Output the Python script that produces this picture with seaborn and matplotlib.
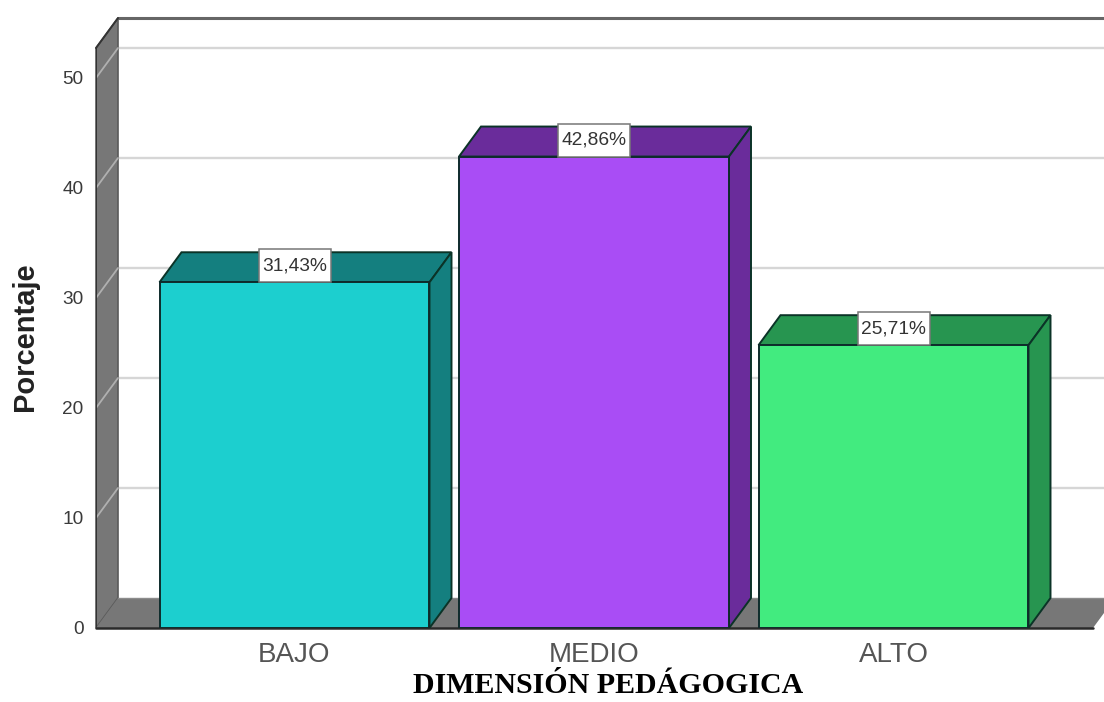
import matplotlib
matplotlib.use("Agg")
import matplotlib.pyplot as plt
from matplotlib.patches import Polygon, Rectangle
import seaborn as sns

categories = ["BAJO", "MEDIO", "ALTO"]
values = [31.43, 42.86, 25.71]
y_ticks = [0, 10, 20, 30, 40, 50]
front_colors = ["#1CCFCF", "#A94DF5", "#42EB7F"]
side_colors = ["#147F7F", "#6A2C9B", "#279550"]
x_title = "DIMENSIÓN PEDÁGOGICA"
y_title = "Porcentaje"

W, H = 1104, 702
LEFT, RIGHT, BOTTOM, TOP = 96, 1104, 628, 18
PX_PER_X, PX_PER_Y = 299.5, 11.0
DX, DY = 22 / PX_PER_X, 30 / PX_PER_Y
X_MIN = -(294.5 - LEFT) / PX_PER_X
X_MAX = X_MIN + (RIGHT - LEFT) / PX_PER_X
X_FRONT_END = X_MIN + (1093 - LEFT) / PX_PER_X
Y_MAX = (BOTTOM - TOP) / PX_PER_Y
WALL_TOP = Y_MAX - DY
BOX_W = 72 / PX_PER_X
BOX_H = 33 / PX_PER_Y

WALL = "#777777"
GRID = "#D6D6D6"
EDGE = "#0E2B2B"

sns.set_theme(style="white")
plt.rcParams["font.family"] = ["Liberation Sans", "DejaVu Sans"]

fig = plt.figure(figsize=(W / 100, H / 100), dpi=100)
ax = fig.add_axes([LEFT / W, 1 - BOTTOM / H, (RIGHT - LEFT) / W, (BOTTOM - TOP) / H])

sns.barplot(x=categories, y=values, hue=categories, palette=front_colors, width=0.9015,
            saturation=1, dodge=False, legend=False, edgecolor=EDGE, linewidth=1.4,
            zorder=6, ax=ax)
ax.set_xlim(X_MIN, X_MAX)
ax.set_ylim(0, Y_MAX)
ax.grid(False)
sns.despine(ax=ax, left=True, bottom=True)

# Back-wall gridlines
for t in y_ticks[1:]:
    ax.plot([X_MIN + DX, X_MAX], [t + DY, t + DY], color=GRID, lw=1.7, zorder=1)

# Top edge of the back wall
ax.plot([X_MIN + DX, X_MAX], [Y_MAX, Y_MAX], color="#666666", lw=2.2, zorder=2, clip_on=False)

# Side wall, with the gridlines running diagonally across it
ax.add_patch(Polygon([(X_MIN, 0), (X_MIN + DX, DY), (X_MIN + DX, Y_MAX), (X_MIN, WALL_TOP)],
                     closed=True, facecolor=WALL, edgecolor="#5A5A5A", lw=1.2, zorder=3, clip_on=False))
for t in y_ticks[1:]:
    ax.plot([X_MIN, X_MIN + DX], [t, t + DY], color="#B0B0B0", lw=1.3, zorder=3.5)

# Floor
ax.add_patch(Polygon([(X_MIN, 0), (X_MIN + DX, DY), (X_FRONT_END + DX, DY), (X_FRONT_END, 0)],
                     closed=True, facecolor=WALL, edgecolor="none", zorder=3))
ax.plot([X_MIN + DX, X_MAX], [DY, DY], color="#8C8C8C", lw=1.0, zorder=3)
ax.plot([X_MIN, X_FRONT_END], [0, 0], color="#2A2A2A", lw=1.8, zorder=4, clip_on=False)
ax.plot([X_MIN, X_MIN], [0, WALL_TOP], color="#333333", lw=1.4, zorder=4)
ax.plot([X_MIN, X_MIN + DX], [WALL_TOP, Y_MAX], color="#333333", lw=1.4, zorder=4, clip_on=False)

# Depth faces and value boxes of each bar
for bar, value, side in zip(ax.patches, values, side_colors):
    x0, x1 = bar.get_x(), bar.get_x() + bar.get_width()
    xc = (x0 + x1) / 2
    ax.add_patch(Polygon([(x0, value), (x0 + DX, value + DY), (x1 + DX, value + DY), (x1, value)],
                         closed=True, facecolor=side, edgecolor="#0B3327", lw=1.4, zorder=5))
    ax.add_patch(Polygon([(x1, 0), (x1 + DX, DY), (x1 + DX, value + DY), (x1, value)],
                         closed=True, facecolor=side, edgecolor="#0B3327", lw=1.4, zorder=5))
    ax.add_patch(Rectangle((xc - BOX_W / 2, value), BOX_W, BOX_H, facecolor="white",
                           edgecolor="#777777", lw=1.1, zorder=7))
    ax.text(xc, value + BOX_H / 2, f"{value:.2f}%".replace(".", ","),
            ha="center", va="center", fontsize=13.8, color="#333333", zorder=8)

ax.set_yticks(y_ticks)
ax.set_yticklabels([str(t) for t in y_ticks], fontsize=13.7, color="#3A3A3A")
ax.set_xticks(range(len(categories)))
ax.set_xticklabels(categories, fontsize=20, color="#555555")
ax.tick_params(axis="y", length=0, pad=9)
ax.tick_params(axis="x", length=0, pad=10)

ax.set_ylabel(y_title, fontsize=21, fontweight="bold", color="#222222", va="center")
ax.yaxis.set_label_coords((25 - LEFT) / (RIGHT - LEFT), (BOTTOM - 337) / (BOTTOM - TOP))
ax.set_xlabel(x_title, fontsize=21.5, fontweight="bold", family="Liberation Serif", color="black", va="center")
ax.xaxis.set_label_coords((608 - LEFT) / (RIGHT - LEFT), -(685.5 - BOTTOM) / (BOTTOM - TOP))

fig.savefig("out.png", dpi=100, facecolor="white")
